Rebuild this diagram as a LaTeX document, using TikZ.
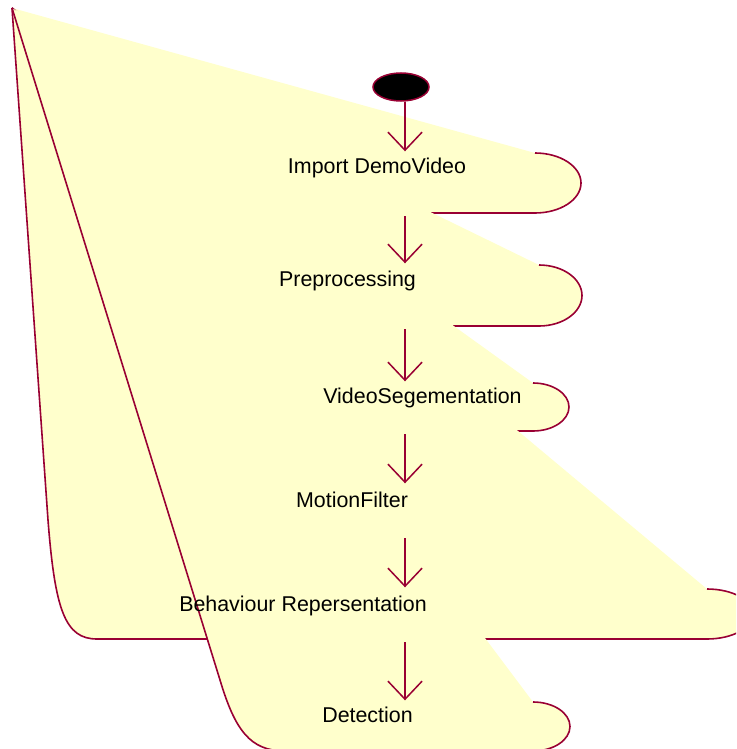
\documentclass[tikz,border=0pt]{standalone}
\usepackage{fontspec}
\setmainfont{Liberation Sans}
\usetikzlibrary{arrows.meta,shapes.geometric}
\definecolor{actfill}{RGB}{255,255,204}
\definecolor{actline}{RGB}{153,0,51}
\tikzset{
  actshape/.style={fill=actfill,draw=none},
  actedge/.style={draw=actline,line width=1.6pt,line join=round},
  actbox/.style={draw=none,inner sep=0pt,rectangle},
  label/.style={inner sep=0pt,anchor=base,font=\fontsize{21.4}{25}\selectfont,text=black},
  initial/.style={ellipse,fill=black,draw=actline,line width=1.5pt,minimum width=56pt,minimum height=28pt,inner sep=0pt},
  flow/.style={draw=actline,line width=2pt,shorten <=3pt,shorten >=1.5pt,
    -{Straight Barb[length=18pt,width=34pt,line width=1.5pt]}}
}
\begin{document}
\begin{tikzpicture}[x=1pt,y=-1pt]
\path[use as bounding box,clip] (0,0) rectangle (736,749);
% activity 1: Import DemoVideo
\path[actshape] (12,8) -- (535,153) arc[start angle=-90,end angle=90,x radius=46,y radius=30] -- (285,213) .. controls (276,213) and (270,207) .. (270,198) -- cycle;
\path[actedge] (535,153) arc[start angle=-90,end angle=90,x radius=46,y radius=30] -- (285,213) .. controls (276,213) and (270,207) .. (270,198) -- (12,8);
% activity 2: Preprocessing
\path[actshape] (12,8) -- (539,265) arc[start angle=-90,end angle=90,x radius=43,y radius=30.5] -- (277,326) .. controls (268,326) and (262,320) .. (262,311) -- cycle;
\path[actedge] (539,265) arc[start angle=-90,end angle=90,x radius=43,y radius=30.5] -- (277,326) .. controls (268,326) and (262,320) .. (262,311) -- (12,8);
% activity 3: VideoSegementation
\path[actshape] (12,8) -- (533,383) arc[start angle=-90,end angle=90,x radius=36,y radius=24] -- (325,431) .. controls (316,431) and (310,425) .. (310,416) -- cycle;
\path[actedge] (533,383) arc[start angle=-90,end angle=90,x radius=36,y radius=24] -- (325,431) .. controls (316,431) and (310,425) .. (310,416) -- (12,8);
% activity 4: MotionFilter
\path[actshape] (12,8) -- (420,485) arc[start angle=-90,end angle=90,x radius=30,y radius=25] -- (295,535) .. controls (286,535) and (280,529) .. (280,520) -- cycle;
\path[actedge] (420,485) arc[start angle=-90,end angle=90,x radius=30,y radius=25] -- (295,535) .. controls (286,535) and (280,529) .. (280,520) -- (12,8);
% activity 5: Behaviour Repersentation
\path[actshape] (12,8) -- (707,589) arc[start angle=-90,end angle=90,x radius=46,y radius=25] -- (97,639) .. controls (65,639) and (55,610) .. (48,520) -- cycle;
\path[actedge] (707,589) arc[start angle=-90,end angle=90,x radius=46,y radius=25] -- (97,639) .. controls (65,639) and (55,610) .. (48,520) -- (12,8);
% activity 6: Detection
\path[actshape] (12,8) -- (533,702) arc[start angle=-90,end angle=90,x radius=37,y radius=24.5] -- (285,751) .. controls (250,751) and (235,730) .. (220,680) -- cycle;
\path[actedge] (533,702) arc[start angle=-90,end angle=90,x radius=37,y radius=24.5] -- (285,751) .. controls (250,751) and (235,730) .. (220,680) -- (12,8);
% activity boxes (anchors for the flows)
\node[actbox,minimum width=311pt,minimum height=60pt] (act1) at (425.5,183) {};
\node[actbox,minimum width=320pt,minimum height=61pt] (act2) at (422,295.5) {};
\node[actbox,minimum width=259pt,minimum height=48pt] (act3) at (439.5,407) {};
\node[actbox,minimum width=170pt,minimum height=50pt] (act4) at (365,510) {};
\node[actbox,minimum width=705pt,minimum height=50pt] (act5) at (400.5,614) {};
\node[actbox,minimum width=350pt,minimum height=49pt] (act6) at (395,726.5) {};
% labels
\node[label] (t1) at (377,173) {Import DemoVideo};
\node[label] (t2) at (347.5,286) {Preprocessing};
\node[label] (t3) at (422.5,403) {VideoSegementation};
\node[label] (t4) at (352,507) {MotionFilter};
\node[label] (t5) at (303,611) {Behaviour Repersentation};
\node[label] (t6) at (367.5,722) {Detection};
% initial node
\node[initial] (init) at (401,87) {};
\coordinate (col) at (405,0);
% flows
\draw[flow,shorten <=0pt] (init.south -| col) -- (act1.north -| col);
\draw[flow] (act1.south -| col) -- (act2.north -| col);
\draw[flow] (act2.south -| col) -- (act3.north -| col);
\draw[flow] (act3.south -| col) -- (act4.north -| col);
\draw[flow] (act4.south -| col) -- (act5.north -| col);
\draw[flow] (act5.south -| col) -- (act6.north -| col);
\end{tikzpicture}
\end{document}
